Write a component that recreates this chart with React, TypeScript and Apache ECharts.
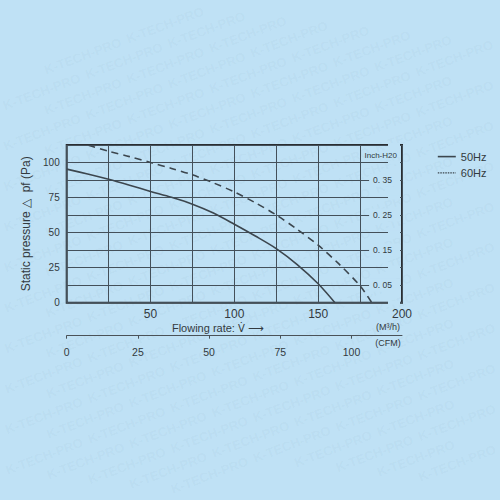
import React, { useEffect, useRef } from "react";
import * as echarts from "echarts";

// 50Hz curve (flow m³/h, static pressure Pa)
const flow50 = [0, 12.5, 25, 37.5, 50, 62.5, 75, 87.5, 100, 112.5, 125, 137.5, 150, 160];
const pa50 = [95.3, 91.8, 88.0, 83.8, 79.4, 75.2, 70.3, 64.0, 56.0, 47.6, 38.6, 27.2, 13.5, 0];
// 60Hz curve
const flow60 = [13, 25, 37.5, 50, 62.5, 75, 87.5, 100, 112.5, 125, 137.5, 150, 162.5, 175, 182];
const pa60 = [112.3, 108, 104.2, 100, 95.8, 91.2, 85.5, 79, 71.3, 62.6, 52.3, 41, 27.5, 12, 0];

const seriesNames = ["50Hz", "60Hz"];
const flowLabels = [50, 100, 150, 200];
const paLabels = [0, 25, 50, 75, 100];
const inchLabels = ["0. 05", "0. 15", "0. 25", "0. 35"];
const inchLabelPa = [12.5, 37.5, 62.5, 87.5];
const cfmMax = 200 / 1.699;

const BG = "#bfe1f5";
const INK = "#333a40";
const GRIDC = "#44505a";
const NARROW = "'Liberation Sans Narrow', 'Liberation Sans', Arial, sans-serif";
const SANS = "'Liberation Sans', Arial, sans-serif";

function zip(xs: number[], ys: number[]) {
  return xs.map((x, i) => [x, ys[i]]);
}

function watermark() {
  const word = "K-TECH-PRO";
  const th = 0.36;
  const c = Math.cos(th);
  const s = Math.sin(th);
  const w = 82;
  const h = 13;
  const period = 88;
  const rowGap = 19;
  const out: any[] = [];
  for (let r = -40; r < 40; r++) {
    for (let k = -10; k < 12; k++) {
      const u = k * period + ((r * 37) % period);
      const v = r * rowGap;
      const x = 250 + u * c + v * s;
      const y = 250 - u * s + v * c;
      const pts = [
        [x, y],
        [x + w * c, y - w * s],
        [x + h * s, y + h * c],
        [x + w * c + h * s, y - w * s + h * c],
      ];
      if (pts.every(([px, py]) => px >= 1 && px <= 499 && py >= 1 && py <= 499)) {
        out.push({
          type: "text",
          x,
          y,
          rotation: th,
          silent: true,
          z: -10,
          style: {
            text: word,
            font: "bold 13px " + SANS,
            fill: "rgba(70,100,130,0.05)",
            verticalAlign: "top",
          },
        });
      }
    }
  }
  return out;
}

export default function App() {
  const ref = useRef<HTMLDivElement>(null);
  useEffect(() => {
    document.body.style.margin = "0";
    const chart = echarts.init(ref.current!, null, { renderer: "svg" });
    const option: any = {
      animation: false,
      backgroundColor: BG,
      textStyle: { fontFamily: SANS },
      legend: {
        orient: "vertical",
        left: 432,
        top: 146,
        itemWidth: 18,
        itemHeight: 14,
        itemGap: 5,
        itemStyle: { opacity: 0 },
        textStyle: { color: INK, fontSize: 11, fontFamily: SANS },
        data: [
          { name: seriesNames[0], lineStyle: { width: 1.6 } },
          { name: seriesNames[1], lineStyle: { type: [1.5, 1], width: 1.2 } },
        ],
      },
      grid: {
        left: 66.7,
        top: 145,
        width: 335.3,
        height: 157.7,
        show: true,
        backgroundColor: "transparent",
        borderColor: "#2a2e32",
        borderWidth: 2,
      },
      xAxis: [
        {
          type: "value",
          min: 0,
          max: 200,
          interval: 25,
          axisLine: { show: false },
          axisTick: { show: false },
          splitLine: { show: true, lineStyle: { color: GRIDC, width: 1 } },
          axisLabel: {
            margin: 5,
            color: INK,
            fontSize: 12,
            fontFamily: SANS,
            formatter: (v: number) => (flowLabels.includes(v) ? String(v) : ""),
          },
        },
        {
          type: "value",
          position: "bottom",
          offset: 33,
          min: 0,
          max: cfmMax,
          interval: 25,
          axisLine: { show: true, onZero: false, lineStyle: { color: "#4a5258", width: 1 } },
          axisTick: { show: true, length: 3, lineStyle: { color: "#4a5258" } },
          splitLine: { show: false },
          axisLabel: {
            margin: 11,
            color: INK,
            fontSize: 10.5,
            fontFamily: NARROW,
            showMaxLabel: false,
          },
        },
      ],
      yAxis: [
        {
          type: "value",
          min: 0,
          max: 112.5,
          interval: 12.5,
          name: "Static pressure \u25b3  pf (Pa)",
          nameLocation: "middle",
          nameGap: 31,
          nameTextStyle: { color: INK, fontSize: 12, fontFamily: SANS },
          axisLine: { show: false },
          axisTick: { show: false },
          splitLine: { show: true, lineStyle: { color: GRIDC, width: 1 } },
          axisLabel: {
            margin: 7,
            color: INK,
            fontSize: 10,
            fontFamily: SANS,
            formatter: (v: number) => (paLabels.includes(v) ? String(v) : ""),
          },
        },
        {
          type: "value",
          position: "right",
          min: 0,
          max: 112.5,
          interval: 12.5,
          axisLine: { show: false },
          axisTick: { show: false },
          splitLine: { show: false },
          axisLabel: {
            inside: true,
            margin: 2,
            color: INK,
            fontSize: 8.5,
            fontFamily: NARROW,
            backgroundColor: BG,
            padding: [2, 8, 2, 4],
            formatter: (v: number) => {
              const i = inchLabelPa.indexOf(v);
              return i >= 0 ? inchLabels[i] : "";
            },
          },
        },
      ],
      series: [
        {
          name: seriesNames[0],
          type: "line",
          smooth: 0.3,
          symbol: "none",
          lineStyle: { color: "#3c464e", width: 1.6, type: "solid" },
          itemStyle: { color: "#3c464e" },
          data: zip(flow50, pa50),
          z: 5,
        },
        {
          name: seriesNames[1],
          type: "line",
          smooth: 0.3,
          symbol: "none",
          lineStyle: { color: "#3c464e", width: 1.6, type: [7, 5] },
          itemStyle: { color: "#3c464e" },
          data: zip(flow60, pa60),
          z: 5,
        },
      ],
      graphic: [
        ...watermark(),
        {
          type: "text",
          x: 380.7,
          y: 155.7,
          style: {
            text: "Inch-H20",
            font: "8px " + NARROW,
            fill: INK,
            align: "center",
            verticalAlign: "middle",
          },
        },
        {
          type: "text",
          x: 218,
          y: 328,
          style: {
            text: "{a|Flowing rate: }{v|V\u0307}{r| \u27f6}",
            align: "center",
            verticalAlign: "middle",
            rich: {
              a: { font: "11px " + SANS, fill: INK },
              v: { font: "10px 'DejaVu Sans'", fill: INK },
              r: { font: "11px 'DejaVu Sans'", fill: INK },
            },
          },
        },
        {
          type: "text",
          x: 388,
          y: 327,
          style: {
            text: "(M\u00b3/h)",
            font: "9px " + NARROW,
            fill: INK,
            align: "center",
            verticalAlign: "middle",
          },
        },
        {
          type: "text",
          x: 388,
          y: 343,
          style: {
            text: "(CFM)",
            font: "9px " + NARROW,
            fill: INK,
            align: "center",
            verticalAlign: "middle",
          },
        },
      ],
    };
    chart.setOption(option);
    return () => chart.dispose();
  }, []);
  return <div ref={ref} style={{ width: 500, height: 500 }} />;
}
